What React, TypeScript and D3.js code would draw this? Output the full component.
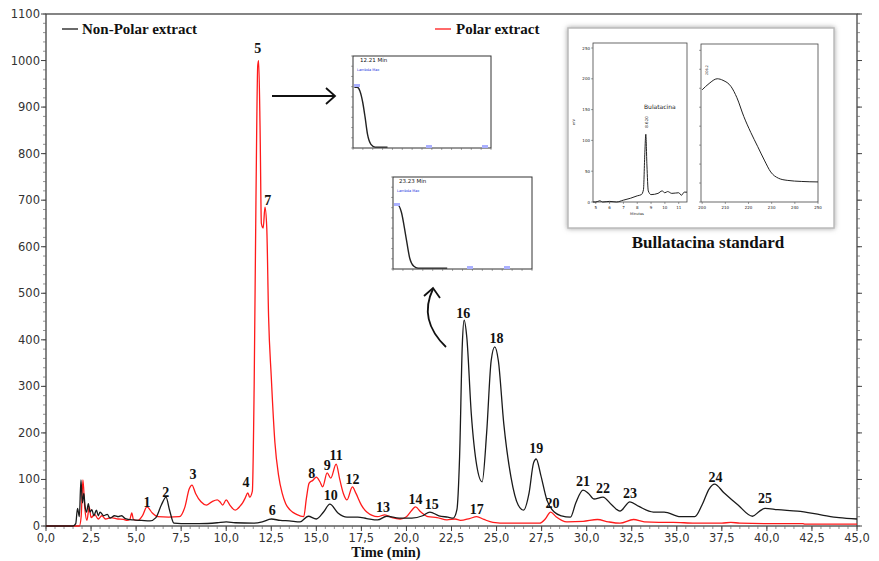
import React from "react";
import * as d3 from "d3";

// chromatogram traces, [time (min), response]
const nonPolar: [number, number][] = [
  [0, 0], [1.5, 0], [1.65, 5], [1.75, 38], [1.85, 20], [1.94, 99], [2.02, 50], [2.1, 70], [2.16, 45],
  [2.25, 30], [2.35, 48], [2.44, 30], [2.55, 35], [2.65, 22], [2.8, 34], [2.9, 22], [3.0, 30], [3.2, 22],
  [3.4, 25], [3.55, 17], [3.8, 22], [4.0, 20], [4.2, 22], [4.4, 16], [4.85, 13], [5.3, 12], [5.77, 11],
  [6.1, 18], [6.4, 45], [6.66, 62], [6.85, 35], [7.1, 6], [7.5, 5], [8.5, 5], [9.5, 7], [10.0, 9],
  [10.5, 7], [11.5, 6], [12.0, 9], [12.5, 15], [13.0, 12], [13.5, 11], [14.1, 9], [14.55, 21], [15.0, 15],
  [15.4, 30], [15.75, 47], [16.2, 28], [16.7, 19], [17.3, 19], [17.8, 16], [18.4, 13], [18.9, 21],
  [19.6, 17], [20.3, 17], [20.9, 22], [21.3, 30], [21.8, 22], [22.3, 19], [22.6, 17], [22.8, 35],
  [22.95, 150], [23.1, 390], [23.2, 442], [23.35, 405], [23.6, 240], [23.9, 130], [24.2, 95], [24.45, 200],
  [24.7, 355], [24.9, 385], [25.1, 355], [25.4, 220], [25.8, 105], [26.2, 45], [26.5, 34], [26.8, 70],
  [27.05, 135], [27.2, 144], [27.45, 110], [27.8, 55], [28.2, 30], [28.6, 22], [29.1, 19], [29.4, 50],
  [29.8, 77], [30.1, 70], [30.4, 58], [30.9, 62], [31.4, 45], [31.85, 32], [32.4, 52], [32.9, 42],
  [33.7, 30], [34.3, 30], [35.2, 20], [36.0, 20], [36.4, 45], [36.8, 80], [37.1, 90], [37.6, 72],
  [38.4, 45], [39.2, 21], [39.6, 32], [39.9, 38], [40.6, 35], [41.7, 32], [43.0, 24], [44.0, 18], [45.0, 15],
];

const polar: [number, number][] = [
  [0, 0], [1.85, 0], [1.95, 20], [2.05, 99], [2.15, 40], [2.27, 12], [2.4, 41], [2.5, 18], [2.7, 25],
  [2.9, 15], [3.1, 22], [3.3, 15], [3.6, 18], [4.0, 15], [4.3, 14], [4.5, 12], [4.65, 14], [4.76, 28],
  [4.85, 14], [5.1, 12], [5.35, 22], [5.6, 41], [5.9, 28], [6.2, 20], [6.8, 19], [7.4, 20], [7.7, 40],
  [7.95, 80], [8.1, 88], [8.3, 70], [8.6, 52], [8.9, 45], [9.2, 52], [9.5, 56], [9.65, 52], [9.8, 45],
  [10.0, 56], [10.2, 45], [10.5, 34], [10.75, 42], [10.9, 49], [11.05, 60], [11.2, 71], [11.3, 62],
  [11.45, 75], [11.55, 300], [11.65, 700], [11.75, 990], [11.8, 1000], [11.88, 850], [11.95, 650],
  [12.05, 640], [12.15, 685], [12.25, 640], [12.35, 450], [12.5, 320], [12.7, 180], [12.9, 110],
  [13.1, 71], [13.3, 48], [13.55, 34], [13.9, 25], [14.3, 20], [14.45, 60], [14.6, 92], [14.8, 98],
  [15.0, 105], [15.2, 95], [15.35, 84], [15.6, 114], [15.8, 103], [16.1, 133], [16.3, 100], [16.5, 70],
  [16.7, 56], [17.0, 84], [17.2, 70], [17.5, 45], [17.8, 30], [18.4, 20], [18.8, 24], [19.2, 18],
  [19.65, 15], [20.0, 20], [20.3, 34], [20.5, 41], [20.8, 30], [21.2, 20], [21.7, 18], [22.25, 13],
  [22.7, 15], [23.0, 12], [23.5, 16], [23.9, 20], [24.3, 14], [24.8, 8], [25.6, 6], [26.5, 6], [27.4, 6],
  [27.7, 15], [28.0, 30], [28.3, 20], [28.9, 9], [29.8, 10], [30.6, 14], [31.2, 9], [31.85, 6], [32.6, 14],
  [33.2, 9], [34.0, 8], [34.8, 8], [36, 6], [37.5, 6], [38, 8], [38.5, 6], [40, 5], [42, 5], [42.1, 4], [45, 4],
];

// peak numbers: [label, time, response at label baseline]
const peakLabels: [string, number, number][] = [
  ["1", 5.6, 41], ["2", 6.65, 62], ["3", 8.15, 101], ["4", 11.1, 84], ["5", 11.75, 1016],
  ["6", 12.55, 24], ["7", 12.3, 690], ["8", 14.75, 103], ["9", 15.6, 120], ["10", 15.8, 56],
  ["11", 16.1, 142], ["12", 17.0, 90], ["13", 18.7, 30], ["14", 20.5, 47], ["15", 21.4, 37],
  ["16", 23.15, 447], ["17", 23.9, 26], ["18", 25.0, 393], ["19", 27.2, 157], ["20", 28.1, 39],
  ["21", 29.8, 86], ["22", 30.9, 71], ["23", 32.4, 60], ["24", 37.15, 95], ["25", 39.9, 49],
];

// UV spectra insets (wavelength fraction, absorbance fraction)
const uvPeak5: [number, number][] = [
  [1, 0.66], [3, 0.66], [5, 0.62], [7, 0.5], [8.7, 0.34], [10.5, 0.15], [13, 0.04], [16, 0.01], [25, 0.01],
];
const uvPeak16: [number, number][] = [
  [2, 0.7], [4, 0.69], [6, 0.62], [9.3, 0.35], [12, 0.12], [15, 0.03], [18, 0.01], [39, 0.01],
];

// Bullatacina standard chromatogram [min, mV] and spectrum [nm, rel]
const stdTrace: [number, number][] = [
  [4.8, 0], [5.0, 0], [5.3, 2], [5.5, 0], [6.0, 1], [6.5, 0], [7.0, 3], [7.5, 6], [8.0, 10], [8.3, 12],
  [8.45, 20], [8.55, 80], [8.62, 110], [8.7, 60], [8.8, 18], [9.0, 12], [9.5, 14], [9.8, 18], [10.0, 15],
  [10.2, 17], [10.5, 14], [11.0, 15], [11.2, 11], [11.4, 16], [11.6, 16],
];
const stdSpectrum: [number, number][] = [
  [200, 0.71], [203, 0.75], [206.5, 0.78], [209, 0.77], [212.5, 0.73], [215, 0.66], [218, 0.54],
  [221, 0.44], [224, 0.35], [227, 0.26], [229.6, 0.19], [233, 0.15], [236.7, 0.137], [243, 0.13], [250, 0.127],
];

const xTicks = d3.range(0, 45.01, 2.5);
const yTicks = d3.range(0, 1101, 100);

const W = 879;
const H = 561;
const serif = "'Liberation Serif', 'DejaVu Serif', serif";
const sans = "'DejaVu Sans', Verdana, sans-serif";

export default function App() {
  const x = d3.scaleLinear().domain([0, 45]).range([46, 857]);
  const y = d3.scaleLinear().domain([0, 1100]).range([526, 14]);
  const line = d3
    .line<[number, number]>()
    .x((d) => x(d[0]))
    .y((d) => y(d[1]))
    .curve(d3.curveMonotoneX);

  const fmt = (v: number) => d3.format(".1f")(v).replace(".", ",");
  const xMinor = d3.range(0, 45.01, 0.5);
  const yMinor = d3.range(0, 1101, 20);

  // inset A (peak 5 spectrum)
  const ax = d3.scaleLinear().domain([0, 100]).range([353, 491]);
  const ay = d3.scaleLinear().domain([0, 1]).range([148, 56]);
  const aLine = d3.line<[number, number]>().x((d) => ax(d[0])).y((d) => ay(d[1])).curve(d3.curveMonotoneX);
  // inset B (peak 16 spectrum)
  const bx = d3.scaleLinear().domain([0, 100]).range([393, 532]);
  const by = d3.scaleLinear().domain([0, 1]).range([269, 177]);
  const bLine = d3.line<[number, number]>().x((d) => bx(d[0])).y((d) => by(d[1])).curve(d3.curveMonotoneX);
  // standard inset
  const sx = d3.scaleLinear().domain([4.8, 11.6]).range([593, 687]);
  const sy = d3.scaleLinear().domain([0, 250]).range([202, 48]);
  const sLine = d3.line<[number, number]>().x((d) => sx(d[0])).y((d) => sy(d[1])).curve(d3.curveMonotoneX);
  const rx = d3.scaleLinear().domain([199.5, 250]).range([701, 818]);
  const ry = d3.scaleLinear().domain([0, 1]).range([202, 44]);
  const rLine = d3.line<[number, number]>().x((d) => rx(d[0])).y((d) => ry(d[1])).curve(d3.curveMonotoneX);

  const smallAxis = (
    x0: number, x1: number, y0: number, y1: number, nx: number, ny: number, key: string
  ) => (
    <g key={key} stroke="#555" strokeWidth={0.5}>
      {d3.range(nx + 1).map((i) => {
        const px = x0 + ((x1 - x0) * i) / nx;
        return <line key={"x" + i} x1={px} x2={px} y1={y1} y2={y1 + 2} />;
      })}
      {d3.range(ny + 1).map((i) => {
        const py = y1 - ((y1 - y0) * i) / ny;
        return <line key={"y" + i} x1={x0 - 2} x2={x0} y1={py} y2={py} />;
      })}
    </g>
  );

  return (
    <svg width={W} height={H} style={{ position: "absolute", left: 0, top: 0, background: "#fff" }}>
      <defs>
        <filter id="glow" x="-10%" y="-10%" width="120%" height="120%">
          <feDropShadow dx="0" dy="0" stdDeviation="2.5" floodColor="#777" floodOpacity="0.7" />
        </filter>
      </defs>
      <rect width={W} height={H} fill="#fff" />

      {/* frame */}
      <rect x={46} y={14} width={811} height={512} fill="none" stroke="#444" strokeWidth={1.3} />

      {/* y ticks */}
      {yMinor.map((v) => (
        <g key={"ym" + v} stroke="#666" strokeWidth={0.7}>
          <line x1={43} x2={46} y1={y(v)} y2={y(v)} />
          <line x1={857} x2={860} y1={y(v)} y2={y(v)} />
        </g>
      ))}
      {yTicks.map((v) => (
        <g key={"y" + v}>
          <line x1={41} x2={46} y1={y(v)} y2={y(v)} stroke="#444" strokeWidth={1} />
          <line x1={857} x2={862} y1={y(v)} y2={y(v)} stroke="#444" strokeWidth={1} />
          <text x={40} y={y(v) + 4} textAnchor="end" fontFamily={sans} fontSize={11.5} fill="#333">
            {v}
          </text>
        </g>
      ))}

      {/* x ticks */}
      {xMinor.map((v) => (
        <line key={"xm" + v} x1={x(v)} x2={x(v)} y1={526} y2={529} stroke="#666" strokeWidth={0.7} />
      ))}
      {xTicks.map((v) => (
        <g key={"x" + v}>
          <line x1={x(v)} x2={x(v)} y1={526} y2={531} stroke="#444" strokeWidth={1} />
          <text x={x(v)} y={541.5} textAnchor="middle" fontFamily={sans} fontSize={11.5} fill="#333">
            {fmt(v)}
          </text>
        </g>
      ))}
      <text x={386} y={557} textAnchor="middle" fontFamily={serif} fontWeight="bold" fontSize={14.5} fill="#111">
        Time (min)
      </text>

      {/* traces */}
      <path d={line(polar) || ""} fill="none" stroke="#ff1a1a" strokeWidth={1.3} />
      <path d={line(nonPolar) || ""} fill="none" stroke="#1a1a1a" strokeWidth={1.3} />

      {peakLabels.map(([t, tx, v]) => (
        <text
          key={"p" + t}
          x={x(tx)}
          y={y(v)}
          textAnchor="middle"
          fontFamily={serif}
          fontWeight="bold"
          fontSize={14}
          fill="#111"
        >
          {t}
        </text>
      ))}

      {/* legend */}
      <line x1={62} x2={78} y1={29} y2={29} stroke="#1a1a1a" strokeWidth={1.3} />
      <text x={82} y={34} fontFamily={serif} fontWeight="bold" fontSize={15} fill="#111">
        Non-Polar extract
      </text>
      <line x1={435} x2={451} y1={29} y2={29} stroke="#ff1a1a" strokeWidth={1.3} />
      <text x={456} y={34} fontFamily={serif} fontWeight="bold" fontSize={15} fill="#111">
        Polar extract
      </text>

      {/* inset A: spectrum of peak 5 */}
      <rect x={353} y={56} width={138} height={92} fill="#fff" stroke="#333" strokeWidth={1} />
      {smallAxis(353, 491, 56, 148, 14, 9, "sa")}
      <path d={aLine(uvPeak5) || ""} fill="none" stroke="#222" strokeWidth={1.4} />
      <text x={360} y={62} fontFamily={sans} fontSize={5.5} fill="#111">12.21 Min</text>
      <text x={357} y={71} fontFamily={sans} fontSize={3.5} fill="#2233dd">Lambda Max</text>
      <rect x={354} y={84} width={6} height={3} fill="#aab0ff" />
      <rect x={426} y={145} width={6} height={3} fill="#aab0ff" />
      <rect x={482} y={145} width={6} height={3} fill="#aab0ff" />
      <line x1={272} x2={334} y1={96} y2={96} stroke="#111" strokeWidth={1.8} />
      <path d="M326,88 L335,96 L326,104" fill="none" stroke="#111" strokeWidth={1.8} />

      {/* inset B: spectrum of peak 16 */}
      <rect x={393} y={177} width={139} height={92} fill="#fff" stroke="#333" strokeWidth={1} />
      {smallAxis(393, 532, 177, 269, 14, 9, "sb")}
      <path d={bLine(uvPeak16) || ""} fill="none" stroke="#222" strokeWidth={1.4} />
      <text x={399} y={183} fontFamily={sans} fontSize={5.5} fill="#111">23.23 Min</text>
      <text x={397} y={192} fontFamily={sans} fontSize={3.5} fill="#2233dd">Lambda Max</text>
      <rect x={394} y={203} width={6} height={3} fill="#aab0ff" />
      <rect x={467} y={266} width={6} height={3} fill="#aab0ff" />
      <rect x={504} y={266} width={6} height={3} fill="#aab0ff" />
      <path d="M446,347 Q418,320 433,289" fill="none" stroke="#111" strokeWidth={1.8} />
      <path d="M424,296 L433,288 L440,298" fill="none" stroke="#111" strokeWidth={1.8} />

      {/* Bullatacina standard inset */}
      <rect x={568} y={28} width={266} height={200} fill="#fff" stroke="#bbb" strokeWidth={1.5} filter="url(#glow)" />
      <rect x={593} y={43} width={94} height={159} fill="none" stroke="#444" strokeWidth={0.8} />
      <rect x={701} y={44} width={117} height={158} fill="none" stroke="#444" strokeWidth={0.8} />
      {d3.range(0, 251, 50).map((v) => (
        <g key={"sy" + v}>
          <line x1={591} x2={593} y1={sy(v)} y2={sy(v)} stroke="#444" strokeWidth={0.5} />
          <text x={590} y={sy(v) + 1.5} textAnchor="end" fontFamily={sans} fontSize={4} fill="#222">{v}</text>
        </g>
      ))}
      {d3.range(5, 11.1, 1).map((v) => (
        <g key={"sx" + v}>
          <line x1={sx(v)} x2={sx(v)} y1={202} y2={204} stroke="#444" strokeWidth={0.5} />
          <text x={sx(v)} y={209} textAnchor="middle" fontFamily={sans} fontSize={4} fill="#222">{v}</text>
        </g>
      ))}
      {d3.range(200, 251, 10).map((v) => (
        <g key={"rx" + v}>
          <line x1={rx(v)} x2={rx(v)} y1={202} y2={204} stroke="#444" strokeWidth={0.5} />
          <text x={rx(v)} y={209} textAnchor="middle" fontFamily={sans} fontSize={4} fill="#222">{v}</text>
        </g>
      ))}
      {d3.range(0, 1.01, 0.12).map((v) => (
        <line key={"ry" + v} x1={699} x2={701} y1={ry(v)} y2={ry(v)} stroke="#444" strokeWidth={0.5} />
      ))}
      <text x={637} y={215} textAnchor="middle" fontFamily={sans} fontSize={3.5} fill="#222">Minutes</text>
      <text transform="translate(575,122) rotate(-90)" textAnchor="middle" fontFamily={sans} fontSize={3.5} fill="#222">mV</text>
      <path d={sLine(stdTrace) || ""} fill="none" stroke="#222" strokeWidth={1} />
      <text x={644} y={109} fontFamily={sans} fontSize={6} fill="#222">Bulatacina</text>
      <text transform="translate(648,122) rotate(-90)" textAnchor="middle" fontFamily={sans} fontSize={4} fill="#222">8.620</text>
      <path d={rLine(stdSpectrum) || ""} fill="none" stroke="#222" strokeWidth={1} />
      <text transform="translate(708,75) rotate(-90)" fontFamily={sans} fontSize={3.5} fill="#222">206.2</text>
      <text x={708} y={248} textAnchor="middle" fontFamily={serif} fontWeight="bold" fontSize={17} fill="#111">
        Bullatacina standard
      </text>
    </svg>
  );
}
